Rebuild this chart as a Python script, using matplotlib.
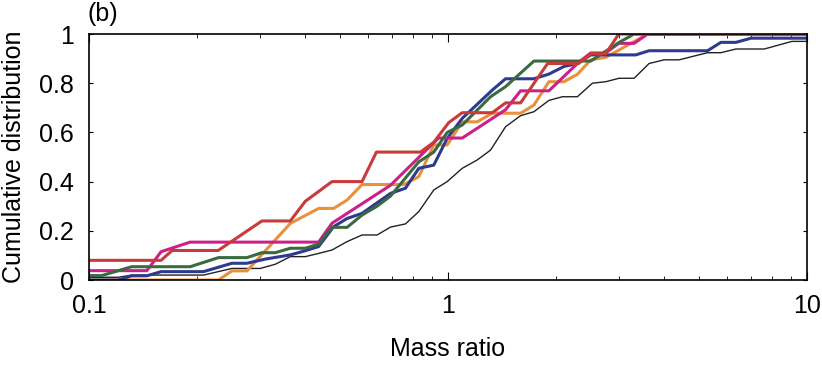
import matplotlib
matplotlib.use("Agg")
import matplotlib.pyplot as plt

plt.rcParams['font.family'] = ['Liberation Sans', 'DejaVu Sans']

# Кривые кумулятивного распределения
black_x = [0.1, 0.1207, 0.1315, 0.2084, 0.25, 0.2999, 0.3303, 0.3637, 0.4004, 0.4362,
           0.4753, 0.5234, 0.5763, 0.6346, 0.6914, 0.7612, 0.829, 0.9129, 0.9949, 1.0955,
           1.2063, 1.3137, 1.4466, 1.5929, 1.735, 1.91, 2.083, 2.293, 2.525, 2.75,
           2.995, 3.299, 3.632, 3.998, 4.404, 5.284, 5.756, 6.339, 7.601, 9.08, 10]
black_y = [0.011, 0.011, 0.02, 0.02, 0.047, 0.047, 0.064, 0.095, 0.095, 0.108,
           0.122, 0.156, 0.183, 0.183, 0.215, 0.228, 0.278, 0.366, 0.40, 0.454,
           0.488, 0.528, 0.623, 0.668, 0.684, 0.73, 0.745, 0.745, 0.80, 0.806,
           0.82, 0.82, 0.88, 0.895, 0.895, 0.924, 0.924, 0.939, 0.939, 0.97, 0.97]

orange_x = [0.1, 0.2295, 0.25, 0.2754, 0.3637, 0.4362, 0.4803, 0.5234, 0.5763, 0.7528,
            0.829, 0.9129, 0.9949, 1.0955, 1.2063, 1.3284, 1.5929, 1.735, 1.91, 2.104,
            2.293, 2.498, 2.75, 3.6, 10]
orange_y = [0.0, 0.0, 0.037, 0.037, 0.23, 0.291, 0.291, 0.325, 0.388, 0.388,
            0.42, 0.549, 0.549, 0.643, 0.643, 0.678, 0.678, 0.711, 0.806, 0.806,
            0.836, 0.895, 0.905, 1.0, 1.0]

blue_x = [0.1, 0.1207, 0.1315, 0.1449, 0.1588, 0.2084, 0.25, 0.2754, 0.3097, 0.3637,
          0.4004, 0.4362, 0.4803, 0.5234, 0.5763, 0.6914, 0.7612, 0.829, 0.9129, 0.9949,
          1.0955, 1.3284, 1.4466, 1.735, 1.91, 2.104, 2.293, 2.498, 3.334, 3.632,
          5.284, 5.756, 6.339, 6.98, 10]
blue_y = [0.0, 0.0, 0.017, 0.017, 0.034, 0.034, 0.068, 0.068, 0.085, 0.102,
          0.119, 0.136, 0.217, 0.25, 0.271, 0.352, 0.373, 0.454, 0.467, 0.576,
          0.657, 0.772, 0.818, 0.818, 0.837, 0.868, 0.88, 0.915, 0.915, 0.932,
          0.932, 0.966, 0.966, 0.983, 0.983]

magenta_x = [0.1, 0.1449, 0.1588, 0.1913, 0.4362, 0.4753, 0.6914, 0.9408, 1.0955, 1.4466,
             1.5929, 1.91, 2.312, 2.498, 2.75, 2.99, 3.299, 3.6, 10]
magenta_y = [0.038, 0.038, 0.115, 0.154, 0.154, 0.231, 0.385, 0.577, 0.577, 0.692,
             0.769, 0.769, 0.885, 0.923, 0.923, 0.962, 0.962, 1.0, 1.0]

green_x = [0.1, 0.1085, 0.1315, 0.1913, 0.2295, 0.2754, 0.3031, 0.3303, 0.3637, 0.4004,
           0.4362, 0.4753, 0.5234, 0.5763, 0.6346, 0.6914, 0.829, 0.9129, 0.9949, 1.0955,
           1.3137, 1.4466, 1.735, 2.498, 2.99, 3.299, 10]
green_y = [0.018, 0.018, 0.054, 0.054, 0.091, 0.091, 0.111, 0.111, 0.129, 0.129,
           0.146, 0.214, 0.214, 0.264, 0.30, 0.341, 0.48, 0.52, 0.60, 0.63,
           0.745, 0.786, 0.89, 0.89, 0.965, 1.0, 1.0]

red_x = [0.1, 0.1588, 0.1704, 0.229, 0.3031, 0.3637, 0.4004, 0.4753, 0.5763, 0.6318,
         0.8382, 0.9129, 1.005, 1.0955, 1.3284, 1.4466, 1.5929, 1.894, 2.312, 2.498,
         2.75, 2.99, 10]
red_y = [0.08, 0.08, 0.12, 0.12, 0.24, 0.24, 0.32, 0.40, 0.40, 0.52,
         0.52, 0.56, 0.64, 0.68, 0.68, 0.72, 0.72, 0.88, 0.88, 0.92,
         0.92, 1.0, 1.0]

x_ticks = [0.1, 1, 10]
x_tick_labels = ['0.1', '1', '10']
y_ticks = [0, 0.2, 0.4, 0.6, 0.8, 1]
y_tick_labels = ['0', '0.2', '0.4', '0.6', '0.8', '1']

fig = plt.figure(figsize=(8.22, 3.71), dpi=100)
ax = fig.add_axes([89 / 822, 91 / 371, 718 / 822, 246 / 371])

ax.plot(black_x, black_y, color='#222222', lw=1.0)
ax.plot(orange_x, orange_y, color='#e8913a', lw=2.2)
ax.plot(blue_x, blue_y, color='#2e3a8f', lw=2.2)
ax.plot(magenta_x, magenta_y, color='#cc1f8a', lw=2.2)
ax.plot(green_x, green_y, color='#3a6a3f', lw=2.2)
ax.plot(red_x, red_y, color='#c93a3a', lw=2.2)

ax.set_xscale('log')
ax.set_xlim(0.1, 10)
ax.set_ylim(0, 1)
ax.set_xticks(x_ticks)
ax.set_xticklabels(x_tick_labels)
ax.set_yticks(y_ticks)
ax.set_yticklabels(y_tick_labels)

ax.tick_params(which='both', direction='in', top=True, right=True, labelsize=18)
ax.tick_params(axis='x', which='major', length=6, pad=10)
ax.tick_params(axis='x', which='minor', length=3)
ax.tick_params(axis='y', which='major', length=3, pad=11)
for s in ax.spines.values():
    s.set_linewidth(1.2)

ax.set_xlabel('Mass ratio', fontsize=18, labelpad=14)
ax.set_ylabel('Cumulative distribution', fontsize=18, labelpad=9)
fig.text(87 / 822, 1 - 2 / 371, '(b)', fontsize=18, va='top', ha='left')

fig.savefig('out.png', dpi=100)
